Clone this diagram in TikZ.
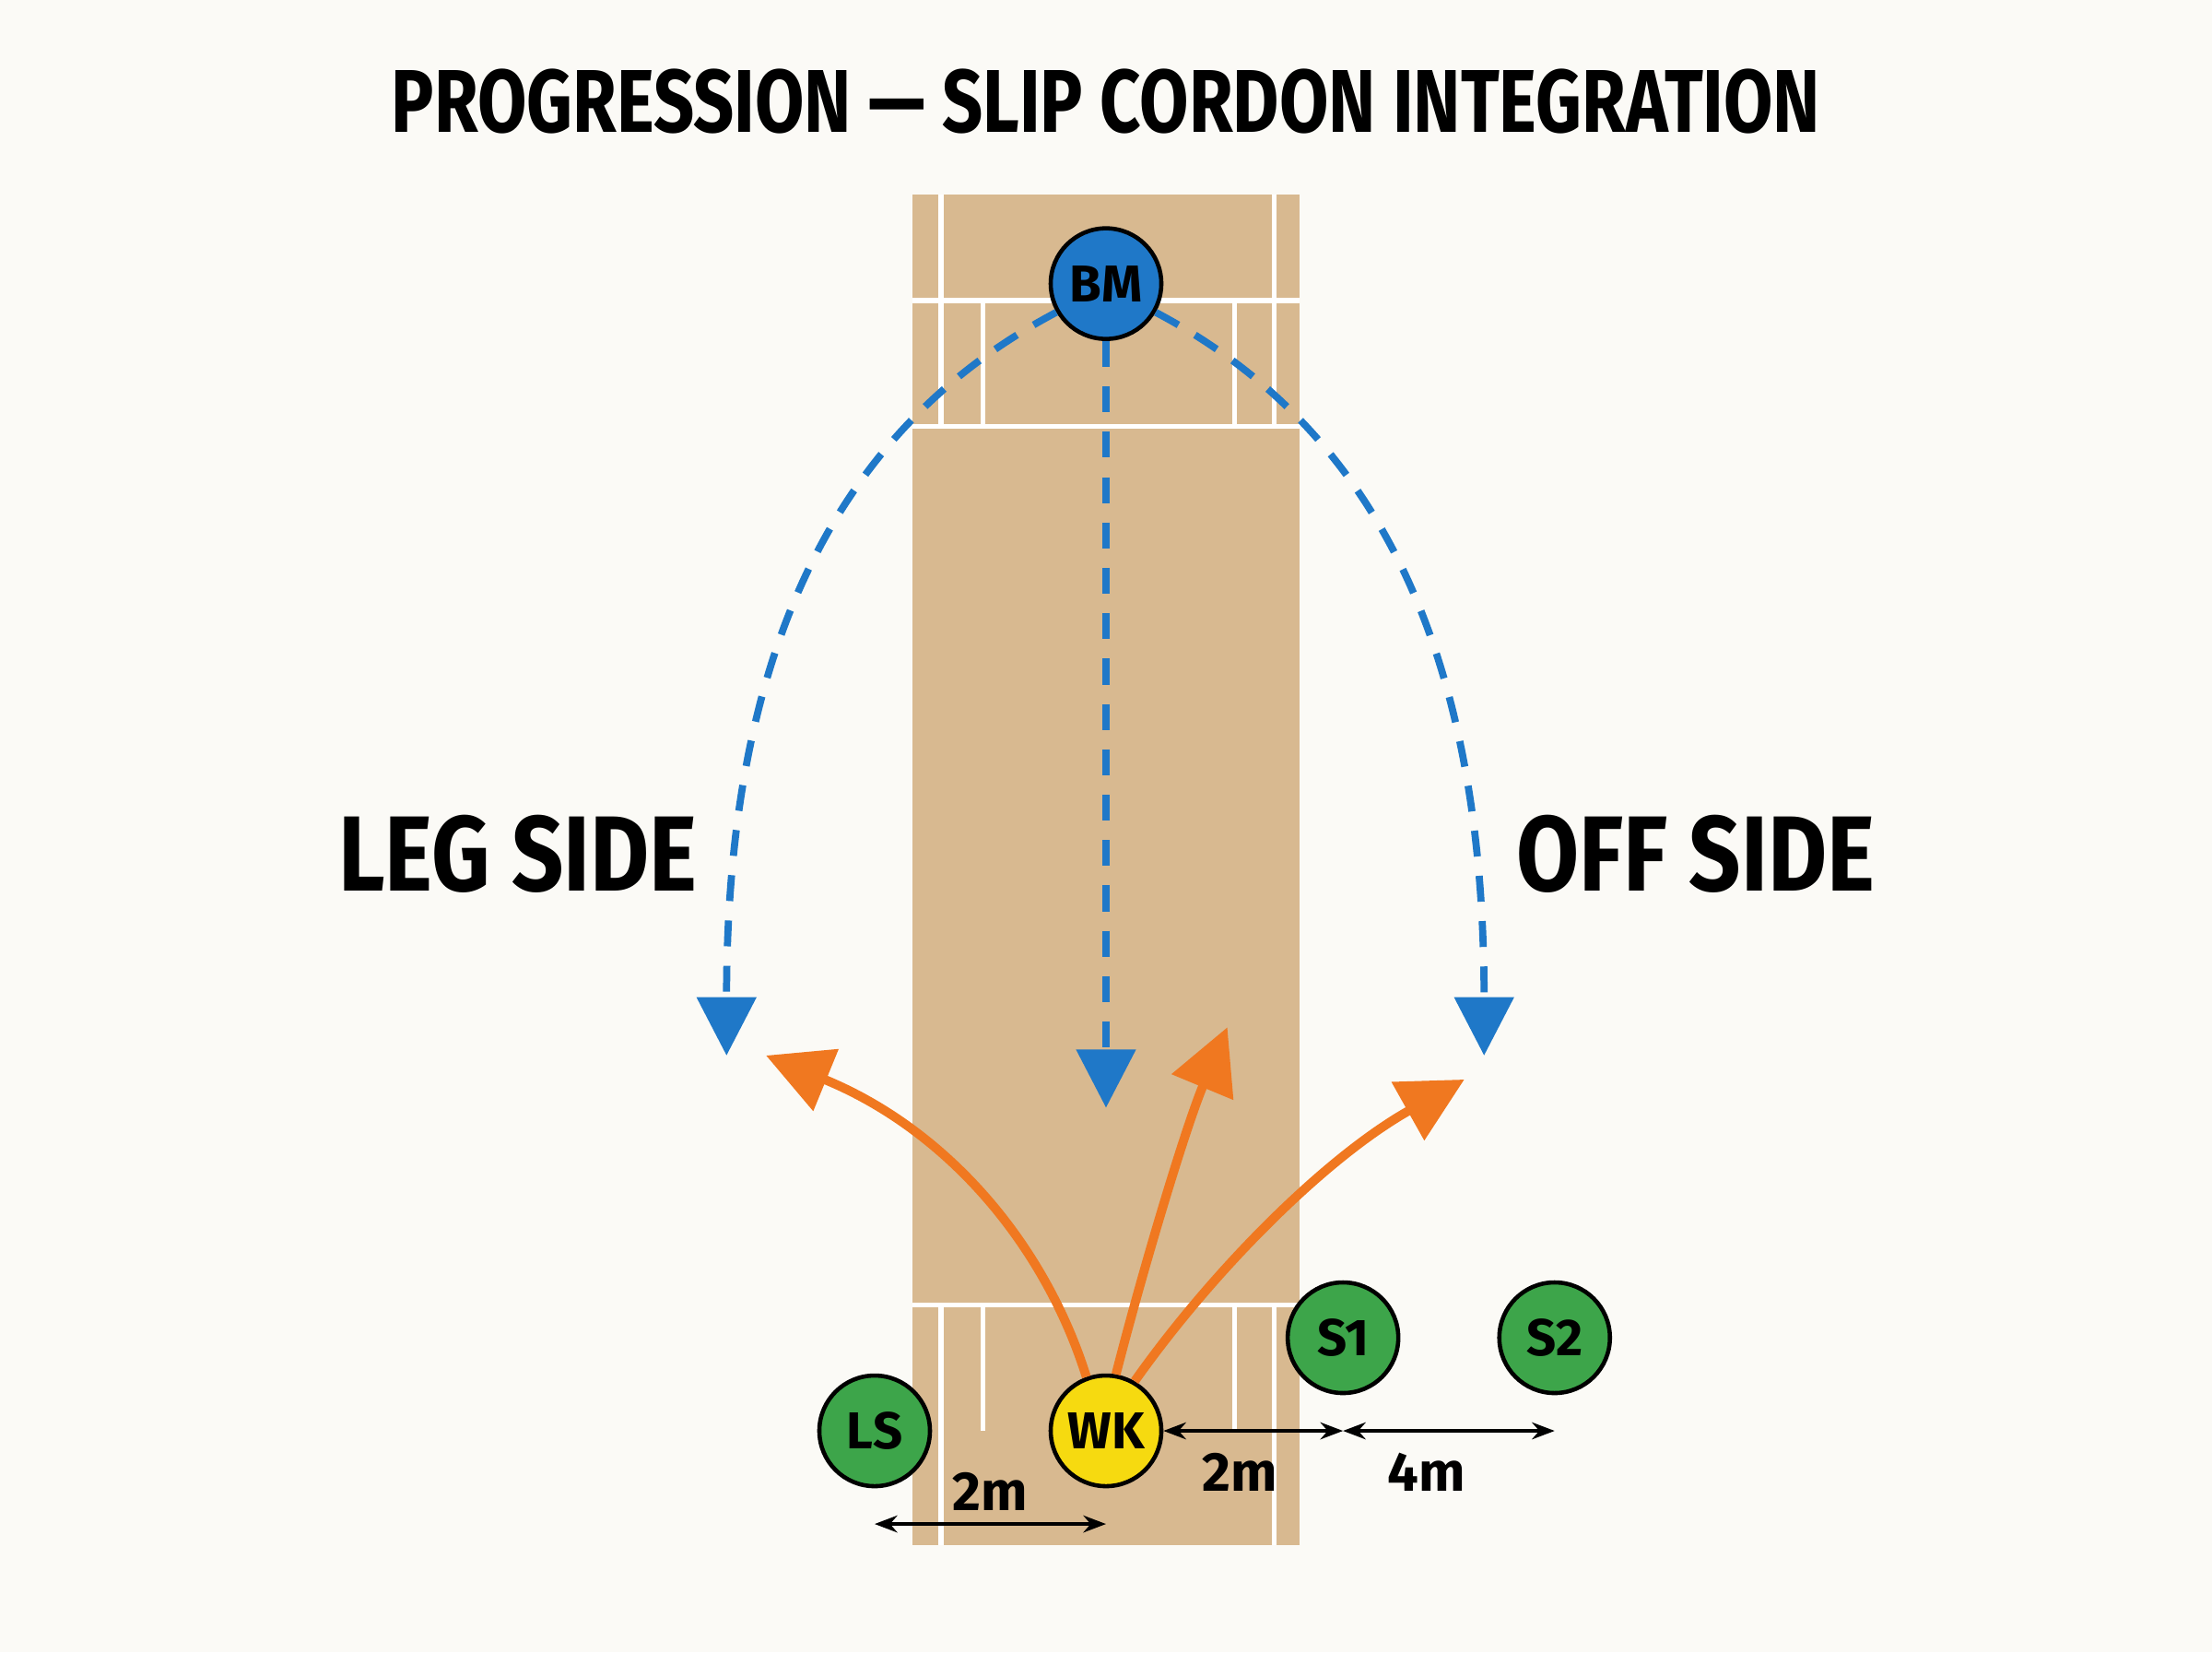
\documentclass[tikz,border=0pt]{standalone}
\usepackage{fontspec}
\setmainfont{Fira Sans}
\usetikzlibrary{arrows.meta}
\definecolor{bg}{HTML}{FBFAF6}
\definecolor{pitch}{HTML}{D8B990}
\definecolor{bmblue}{HTML}{1F78C8}
\definecolor{wky}{HTML}{F6DA10}
\definecolor{grn}{HTML}{3DA54A}
\definecolor{org}{HTML}{F07820}
\begin{document}
\begin{tikzpicture}[x=0.015306cm,y=-0.015306cm,
  player/.style={circle,draw=black,line width=1.3pt,minimum size=1.2cm,inner sep=0pt,font=\bfseries\fontsize{16}{16}\selectfont},
  crease/.style={white,line width=1.5pt},
  blue arr/.style={bmblue,line width=2.2pt,dash pattern=on 8pt off 6pt,-{Triangle[width=18pt,length=18pt]}},
  org arr/.style={org,line width=2.8pt,-{Triangle[width=20pt,length=20pt]}},
  dim/.style={black,line width=1pt,{Stealth[length=7pt]}-{Stealth[length=7pt]}},
  dimlab/.style={font=\bfseries\fontsize{17}{17}\selectfont},
  side/.style={font=\bfseries\fontsize{33}{33}\selectfont}]
\fill[bg] (0,0) rectangle (1568,1171);
\node (title) at (784,72) {\resizebox{15.5cm}{!}{\bfseries\scalebox{0.8}[1]{PROGRESSION — SLIP CORDON INTEGRATION}}};
\fill[pitch] (647,138) rectangle (921,1095);
\draw[crease] (647,213) -- (921,213);
\draw[crease] (647,302) -- (921,302);
\draw[crease] (667,138) -- (667,302);
\draw[crease] (903,138) -- (903,302);
\draw[crease] (697,213) -- (697,302);
\draw[crease] (875,213) -- (875,302);
\draw[crease] (647,925) -- (921,925);
\draw[crease] (667,925) -- (667,1095);
\draw[crease] (903,925) -- (903,1095);
\draw[crease] (697,925) -- (697,1014);
\draw[crease] (875,925) -- (875,1014);
\node[player,fill=bmblue] (BM) at (784,201) {BM};
\coordinate (bl) at (515,748);
\coordinate (bc) at (784,785);
\coordinate (br) at (1052,748);
\draw[blue arr] (BM.south) -- (bc);
\draw[blue arr] (BM.210) .. controls (600,300) and (515,450) .. (bl);
\draw[blue arr] (BM.330) .. controls (968,300) and (1052,450) .. (br);
\node[player,fill=wky] (WK) at (784,1014) {WK};
\node[player,fill=grn] (LS) at (620,1014) {LS};
\node[player,fill=grn] (S1) at (952,948) {S1};
\node[player,fill=grn] (S2) at (1102,948) {S2};
\coordinate (ol) at (543,748);
\coordinate (oc) at (870,728);
\coordinate (or) at (1038,765);
\draw[org arr] (WK.110) .. controls (740,880) and (670,800) .. (ol);
\draw[org arr] (WK.80) .. controls (810,900) and (840,800) .. (oc);
\draw[org arr] (WK.60) .. controls (860,900) and (940,820) .. (or);
\coordinate (d1a) at (620,1080); \coordinate (d1b) at (784,1080);
\draw[dim] (d1a) -- (d1b);
\node[dimlab] (l1) at (702,1057) {2m};
\draw[dim] (WK.east) -- (S1.center|-WK.east);
\node[dimlab] (l2) at (879,1043) {2m};
\coordinate (d3a) at (952,1014); \coordinate (d3b) at (1102,1014);
\draw[dim] (d3a) -- (d3b);
\node[dimlab] (l3) at (1011,1043) {4m};
\node[side] (leg) at (367,605) {\scalebox{0.85}[1]{LEG SIDE}};
\node[side] (off) at (1202,605) {\scalebox{0.85}[1]{OFF SIDE}};
\end{tikzpicture}
\end{document}
